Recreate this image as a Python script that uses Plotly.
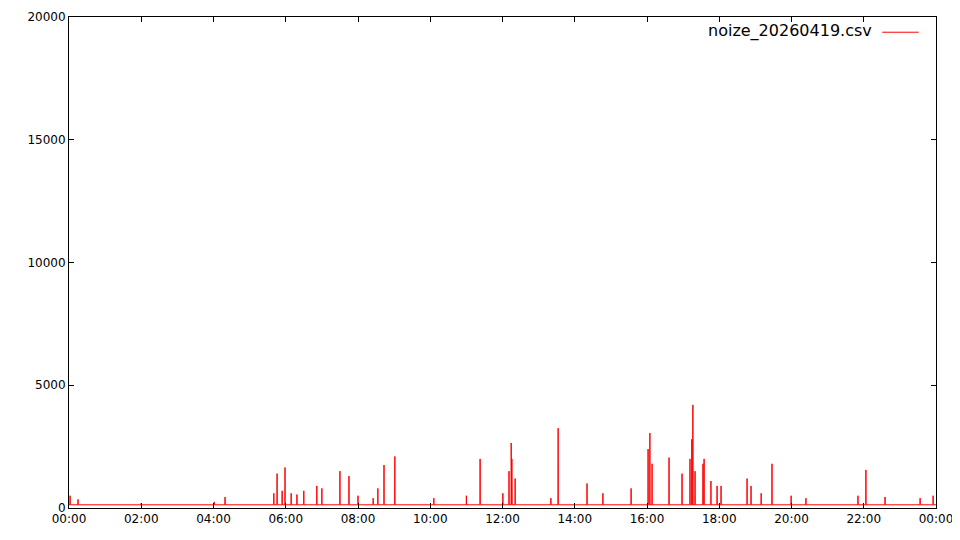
import plotly.graph_objects as go

# noise level readings, hours since midnight
baseline = 130
spike_hours = [0.03, 0.25, 2.0, 4.02, 4.32, 5.67, 5.76, 5.9, 5.98, 6.15, 6.31, 6.5, 6.86, 7.0,
               7.5, 7.75, 8.0, 8.42, 8.55, 8.72, 9.02, 10.1, 11.0, 11.38, 12.01, 12.18, 12.24,
               12.26, 12.35, 13.34, 13.54, 14.34, 14.78, 15.56, 16.03, 16.08, 16.14, 16.61,
               16.97, 17.19, 17.24, 17.27, 17.33, 17.55, 17.58, 17.77, 17.94, 18.05, 18.77,
               18.88, 19.16, 19.46, 19.99, 20.4, 21.84, 22.06, 22.59, 23.56, 23.92]
spike_values = [500, 350, 200, 250, 450, 600, 1400, 700, 1650, 600, 550, 700, 900, 800,
                1500, 1300, 500, 400, 800, 1750, 2100, 400, 500, 2000, 600, 1500, 2650,
                2000, 1200, 400, 3250, 1000, 600, 800, 2400, 3050, 1800, 2050,
                1400, 2000, 2800, 4200, 1500, 1800, 2000, 1100, 900, 900, 1200,
                900, 600, 1800, 500, 400, 500, 1550, 450, 400, 500]
tick_hours = [0, 2, 4, 6, 8, 10, 12, 14, 16, 18, 20, 22, 24]
tick_labels = ["00:00", "02:00", "04:00", "06:00", "08:00", "10:00", "12:00",
               "14:00", "16:00", "18:00", "20:00", "22:00", "00:00"]
y_ticks = [0, 5000, 10000, 15000, 20000]

xs, ys = [0], [baseline]
for h, v in zip(spike_hours, spike_values):
    xs += [h - 0.004, h, h + 0.004]
    ys += [baseline, v, baseline]
xs.append(24)
ys.append(baseline)

fig = go.Figure(go.Scatter(x=xs, y=ys, mode="lines", line=dict(color="#ff0000", width=1)))

ax = dict(showline=True, linecolor="black", linewidth=1, mirror="ticks", ticks="inside",
          ticklen=5, tickcolor="black", showgrid=False, zeroline=False, automargin=False)
fig.update_xaxes(range=[0, 24], tickvals=tick_hours, ticktext=tick_labels, **ax)
fig.update_yaxes(range=[0, 20000], tickvals=y_ticks, ticktext=[str(t) for t in y_ticks], **ax)

fig.add_annotation(x=0.928, y=0.995, xref="paper", yref="paper", text="noize_20260419.csv",
                   showarrow=False, xanchor="right", yanchor="top",
                   font=dict(size=16, color="black"))
fig.add_shape(type="line", xref="paper", yref="paper", x0=0.938, x1=0.98, y0=0.969, y1=0.969,
              line=dict(color="#ff0000", width=1))

fig.update_layout(width=952, height=532, margin=dict(l=61, r=24, t=9, b=32),
                  plot_bgcolor="white", paper_bgcolor="white", showlegend=False,
                  font=dict(family="DejaVu Sans", size=12, color="black"))
fig.write_html("out.html")
